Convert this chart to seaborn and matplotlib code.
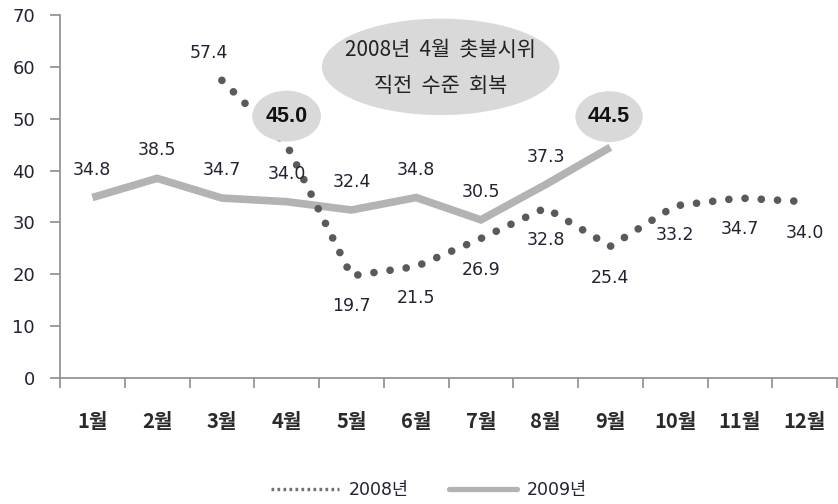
import matplotlib
matplotlib.use("Agg")
import matplotlib.pyplot as plt
from matplotlib.patches import Ellipse
from matplotlib.lines import Line2D
import seaborn as sns
import pandas as pd
import numpy as np

months = ["1월", "2월", "3월", "4월", "5월", "6월", "7월", "8월", "9월", "10월", "11월", "12월"]
y2008 = [None, None, 57.4, 45.0, 19.7, 21.5, 26.9, 32.8, 25.4, 33.2, 34.7, 34.0]
y2009 = [34.8, 38.5, 34.7, 34.0, 32.4, 34.8, 30.5, 37.3, 44.5, None, None, None]
yticks = [0, 10, 20, 30, 40, 50, 60, 70]
callout = "2008년  4월  촛불시위\n직전  수준  회복"

sns.set_theme(style="white")
plt.rcParams['font.family'] = ['DejaVu Sans', 'Noto Sans CJK KR']

fig = plt.figure(figsize=(8.38, 5.04), dpi=100)
ax = fig.add_axes([60/838, 126/504, 777/838, 363/504])

df08 = pd.DataFrame({"x": np.arange(12), "y": y2008}).dropna()
df09 = pd.DataFrame({"x": np.arange(12), "y": y2009}).dropna()

sns.lineplot(data=df09, x="x", y="y", ax=ax, color="#b3b3b3", linewidth=5.5,
             solid_joinstyle="miter", solid_capstyle="butt", zorder=2)
sns.lineplot(data=df08, x="x", y="y", ax=ax, color="#5a5a5a", linewidth=5.5,
             linestyle=(0, (0.01, 2.12)), dash_capstyle="round", zorder=3)

ax.set_xlim(-0.5, 11.5)
ax.set_ylim(0, 70)
ax.set_yticks(yticks)
ax.set_yticklabels([str(v) for v in yticks])
ax.set_xticks(np.arange(12))
ax.set_xticklabels(months, family=['Noto Sans CJK KR'], fontsize=14.5, fontweight='bold',
                   color="#2a2a2a")
ax.set_xticks(np.arange(-0.5, 12, 1), minor=True)
ax.tick_params(axis='x', which='major', length=0, pad=23.5)
ax.tick_params(axis='x', which='minor', length=7, width=1.2, color="#8c8c8c", direction='out', bottom=True)
ax.tick_params(axis='y', length=7, width=1.2, color="#8c8c8c", direction='out', left=True,
               labelsize=13, labelcolor="#222233", pad=11)
ax.set_xlabel("")
ax.set_ylabel("")
for s in ["top", "right"]:
    ax.spines[s].set_visible(False)
for s in ["left", "bottom"]:
    ax.spines[s].set_color("#8c8c8c")
    ax.spines[s].set_linewidth(1.2)

lab_kw = dict(ha="center", va="center", fontsize=12.5, color="#222233", zorder=5)

# 2009 labels (above)
for i, v in enumerate(y2009):
    if v is None or i == 8:
        continue
    ax.text(i, v + 5.4, f"{v:.1f}", **lab_kw)

# 2008 labels
pos08 = {2: (-0.2, 5.3), 4: (0, -5.8), 5: (0, -6.1), 6: (0, -6.1), 7: (0, -6.2),
         8: (0, -6.1), 9: (0, -5.6), 10: (0, -6.0), 11: (0, -6.0)}
for i, v in enumerate(y2008):
    if v is None or i == 3:
        continue
    dx, dy = pos08[i]
    ax.text(i + dx, v + dy, f"{v:.1f}", **lab_kw)

# highlighted ellipses
bold_kw = dict(ha="center", va="center", fontsize=15.5, fontweight="bold",
               family=['Liberation Sans', 'DejaVu Sans'], color="#111111", zorder=6)
ax.add_patch(Ellipse((3.0, 50.5), 1.06, 9.8, facecolor="#d9d9d9", edgecolor="none", zorder=4))
ax.text(3.0, 50.5, "45.0", **bold_kw)
ax.add_patch(Ellipse((7.98, 50.4), 1.04, 9.8, facecolor="#d9d9d9", edgecolor="none", zorder=4))
ax.text(7.98, 50.4, "44.5", **bold_kw)

# callout ellipse
ax.add_patch(Ellipse((5.38, 60.0), 3.67, 18.6, facecolor="#d9d9d9", edgecolor="none", zorder=4))
ax.text(5.38, 59.8, callout, ha="center", va="center", fontsize=15, linespacing=1.85,
        family=['Noto Sans CJK KR'], color="#222222", zorder=6)

# legend
h08 = Line2D([], [], color="#707070", linewidth=2.4, linestyle=(0, (0.8, 1.0)))
h09 = Line2D([], [], color="#b3b3b3", linewidth=3.8)
leg = fig.legend([h08, h09], ["2008년", "2009년"], loc="center", bbox_to_anchor=(0.512, 0.027),
                 ncol=2, frameon=False, handlelength=3.9, columnspacing=2.3,
                 handletextpad=0.6, prop={'family': ['DejaVu Sans', 'Noto Sans CJK KR'], 'size': 12.5})
for t in leg.get_texts():
    t.set_color("#222233")

fig.savefig("out.png", dpi=100)
